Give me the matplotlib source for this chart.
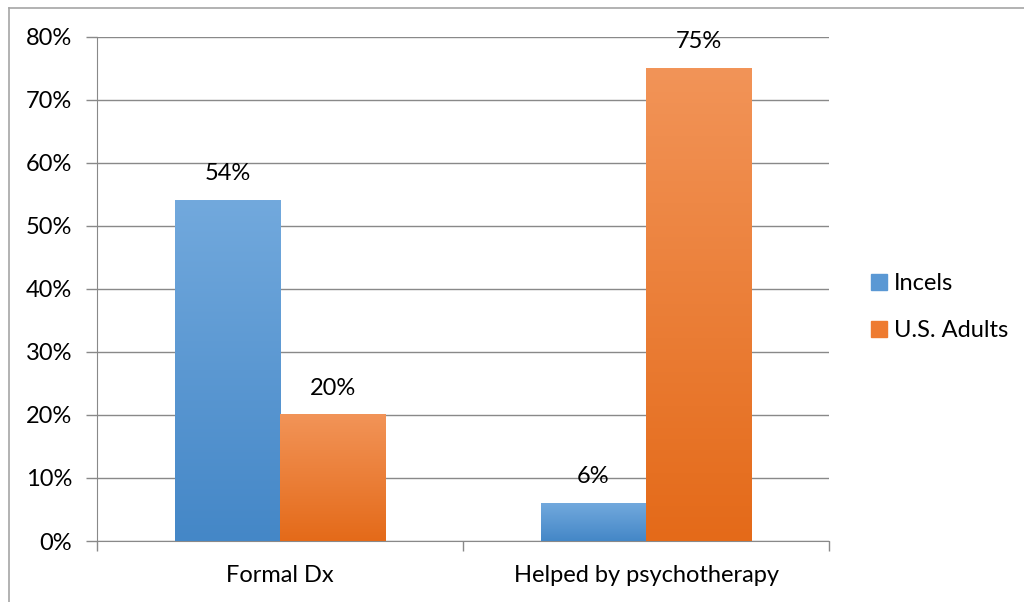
import numpy as np
import matplotlib.pyplot as plt
from matplotlib.patches import Rectangle
from matplotlib.lines import Line2D

categories = ["Formal Dx", "Helped by psychotherapy"]
series = ["Incels", "U.S. Adults"]
incels = [54, 6]
us_adults = [20, 75]
yticks = [0, 10, 20, 30, 40, 50, 60, 70, 80]

plt.rcParams['font.family'] = ['Lato', 'DejaVu Sans']
FS = 17

# gradient colours (top, bottom)
grads = {"Incels": ("#72a9dd", "#4487c7"), "U.S. Adults": ("#f29458", "#e46a19")}
legend_col = {"Incels": "#5a98d4", "U.S. Adults": "#ee7b30"}

fig = plt.figure(figsize=(10.24, 6.02), dpi=100)
ax = fig.add_axes([97/1024, 1-541/602, (829-97)/1024, (541-37)/602])

# outer frame (top and left only visible)
fig.add_artist(Line2D([9/1024, 9/1024], [0, 1-7.5/602], color="#a6a6a6", lw=1.2, transform=fig.transFigure))
fig.add_artist(Line2D([9/1024, 1], [1-7.5/602, 1-7.5/602], color="#a6a6a6", lw=1.2, transform=fig.transFigure))

x = np.arange(len(categories))
w = 0.287


def grad_bar(x0, h, top, bottom):
    c1 = np.array(plt.matplotlib.colors.to_rgb(top))
    c2 = np.array(plt.matplotlib.colors.to_rgb(bottom))
    t = np.linspace(0, 1, 256)[:, None]
    img = (c1 * (1 - t) + c2 * t)[:, None, :]
    ax.imshow(img, extent=(x0, x0 + w, 0, h), aspect="auto", zorder=3, origin="upper")


for i in range(len(categories)):
    for j, (name, vals) in enumerate(zip(series, [incels, us_adults])):
        x0 = x[i] - w + j * w
        grad_bar(x0, vals[i], *grads[name])
        ax.text(x0 + w / 2, vals[i] + 2.6, f"{vals[i]}%", ha="center", va="bottom",
                fontsize=FS, color="black")

ax.set_xlim(-0.5, 1.5)
ax.set_ylim(0, 80)
ax.set_yticks(yticks)
ax.set_yticklabels([f"{v}%" for v in yticks], fontsize=FS)
ax.set_xticks(x)
ax.set_xticklabels(categories, fontsize=FS)
ax.tick_params(axis="x", length=0, pad=17)
ax.set_xticks([-0.5, 0.5, 1.5], minor=True)
ax.tick_params(axis="x", which="minor", length=7, color="#898989", width=1)
ax.tick_params(axis="y", length=8, color="#898989", width=1, pad=10)
ax.grid(axis="y", color="#898989", lw=1, zorder=0)
ax.set_axisbelow(True)
for s in ["top", "right"]:
    ax.spines[s].set_visible(False)
for s in ["left", "bottom"]:
    ax.spines[s].set_color("#898989")

handles = [Rectangle((0, 0), 1, 1, color=legend_col[n]) for n in series]
fig.legend(handles, series, loc="center left", bbox_to_anchor=(850/1024, 1-307/602),
           frameon=False, fontsize=FS, handlelength=0.65, handleheight=0.65,
           labelspacing=1.1, handletextpad=0.3)

fig.savefig("out.png", dpi=100)
